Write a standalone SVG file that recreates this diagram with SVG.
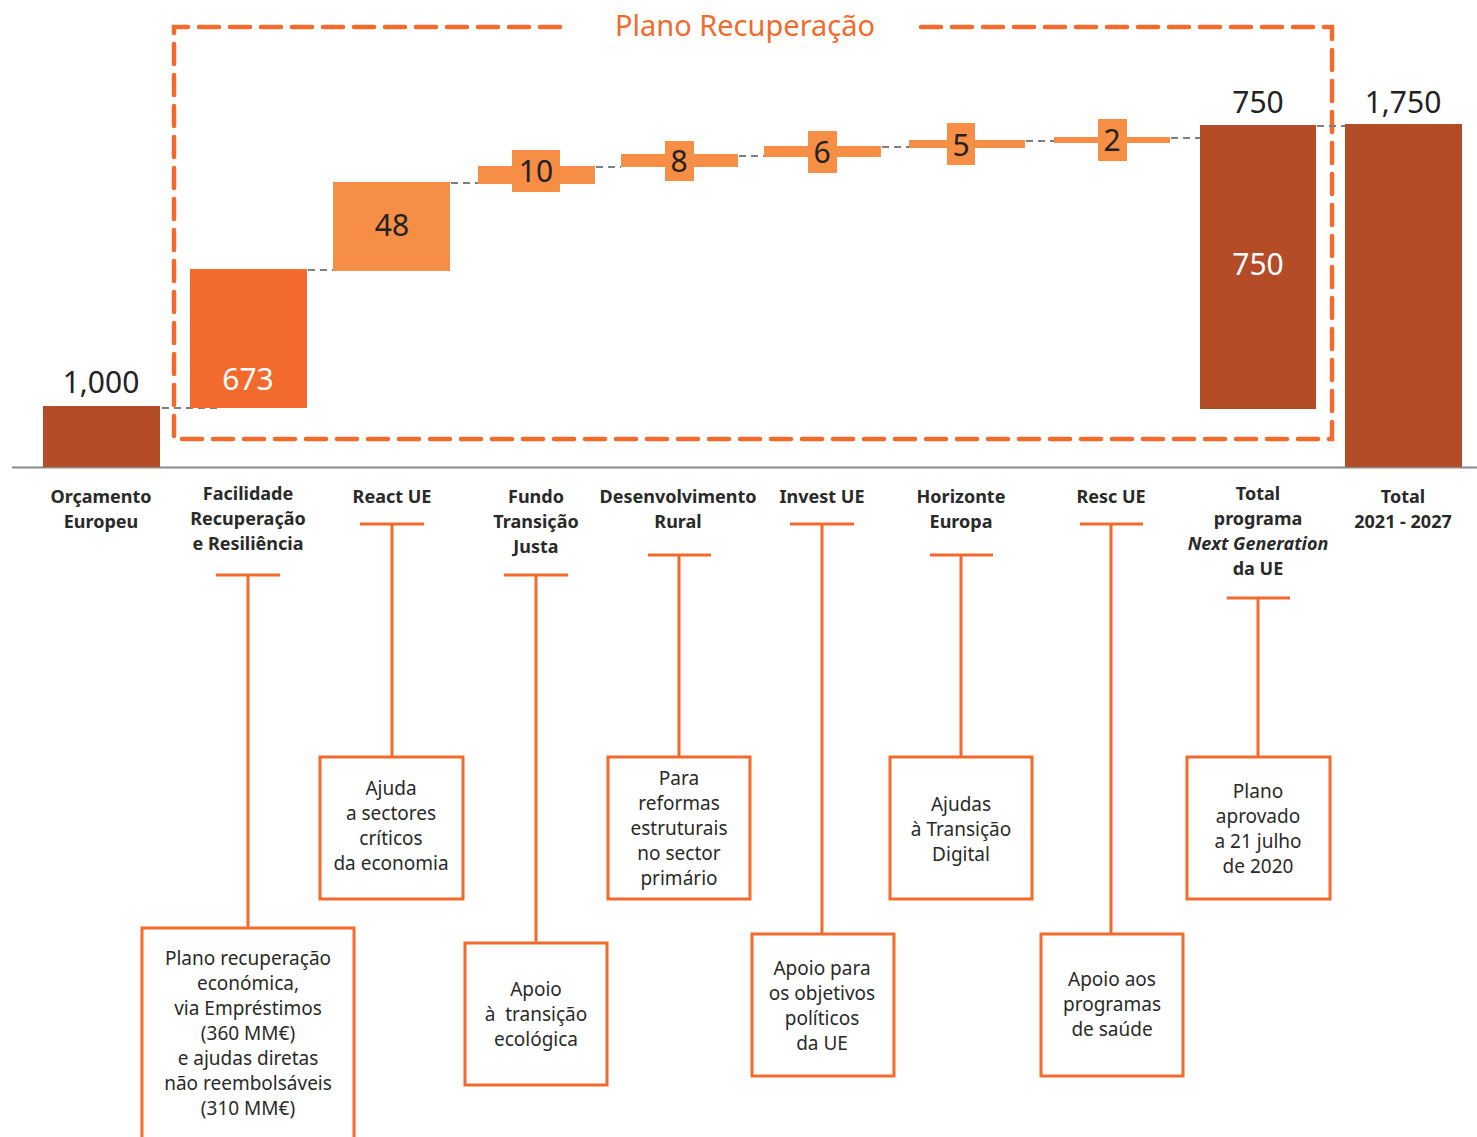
<svg xmlns="http://www.w3.org/2000/svg" width="1477" height="1137" viewBox="0 0 1477 1137">
<style>
.bg{fill:#ffffff}
.dk{fill:#B34C27}
.or{fill:#F26B2C}
.lt{fill:#F68E45}
.num{font-family:"Noto Sans","Open Sans",sans-serif;font-size:30px;fill:#222;text-anchor:middle}
.numw{font-family:"Noto Sans","Open Sans",sans-serif;font-size:30px;fill:#ffffff;text-anchor:middle}
.cat{font-family:"Noto Sans","Open Sans",sans-serif;font-size:18px;font-weight:bold;fill:#2a2a2a;text-anchor:middle}
.box{fill:#ffffff;stroke:#F26B2C;stroke-width:3}
.txt{font-family:"Noto Sans","Open Sans",sans-serif;font-size:19px;fill:#2a2a2a;text-anchor:middle}
.conn{stroke:#F26B2C;stroke-width:3;fill:none}
.gd{stroke:#7f7f7f;stroke-width:2;stroke-dasharray:7,5;fill:none}
.frame{stroke:#F26B2C;stroke-width:4.5;stroke-dasharray:20,11;stroke-linecap:round;fill:none}
</style>
<rect class="bg" x="0" y="0" width="1477" height="1137"/>

<g id="frame">
<path class="frame" d="M560,27 H174 V439 H1332 V27 H915"/>
<text x="745" y="36" font-family="Noto Sans, Open Sans, sans-serif" font-size="29" fill="#F26B2C" text-anchor="middle">Plano Recuperação</text>
</g>

<g id="connectors">
<line class="gd" x1="162" y1="408" x2="222" y2="408"/>
<line class="gd" x1="308" y1="270" x2="333" y2="270"/>
<line class="gd" x1="451" y1="183" x2="478" y2="183"/>
<line class="gd" x1="596" y1="167" x2="621" y2="167"/>
<line class="gd" x1="739" y1="156" x2="764" y2="156"/>
<line class="gd" x1="882" y1="147" x2="909" y2="147"/>
<line class="gd" x1="1026" y1="141" x2="1054" y2="141"/>
<line class="gd" x1="1171" y1="138" x2="1200" y2="138"/>
<line class="gd" x1="1317" y1="126" x2="1390" y2="126"/>
<path class="conn" d="M216,575 H280 M248,575 V928"/>
<path class="conn" d="M360,524 H424 M392,524 V757"/>
<path class="conn" d="M504,575 H568 M536,575 V943"/>
<path class="conn" d="M648,555 H711 M679,555 V757"/>
<path class="conn" d="M790,524 H854 M822,524 V934"/>
<path class="conn" d="M930,555 H993 M961,555 V757"/>
<path class="conn" d="M1080,524 H1143 M1111,524 V934"/>
<path class="conn" d="M1227,598 H1290 M1258,598 V757"/>
</g>

<g id="axis">
<line x1="12" y1="467.5" x2="1477" y2="467.5" stroke="#8a8a8a" stroke-width="2"/>
</g>

<g id="bar-orcamento">
<rect class="dk" x="43" y="406" width="117" height="61"/>
<text class="num" x="101" y="393">1,000</text>
<text class="cat" x="101" y="503">Orçamento</text>
<text class="cat" x="101" y="528">Europeu</text>
</g>

<g id="bar-facilidade">
<rect class="or" x="190" y="269" width="117" height="139"/>
<text class="numw" x="248" y="390">673</text>
<text class="cat" x="248" y="500">Facilidade</text>
<text class="cat" x="248" y="525">Recuperação</text>
<text class="cat" x="248" y="550">e Resiliência</text>
</g>

<g id="bar-react">
<rect class="lt" x="333" y="182" width="117" height="89"/>
<text class="num" x="392" y="236">48</text>
<text class="cat" x="392" y="503">React UE</text>
</g>

<g id="bar-fundo">
<rect class="lt" x="478" y="166" width="117" height="18"/>
<rect class="lt" x="512" y="150" width="48" height="42"/>
<text class="num" x="536" y="182">10</text>
<text class="cat" x="536" y="503">Fundo</text>
<text class="cat" x="536" y="528">Transição</text>
<text class="cat" x="536" y="553">Justa</text>
</g>

<g id="bar-desenvolvimento">
<rect class="lt" x="621" y="154" width="117" height="13"/>
<rect class="lt" x="665" y="141" width="29" height="40"/>
<text class="num" x="679" y="172">8</text>
<text class="cat" x="678" y="503">Desenvolvimento</text>
<text class="cat" x="678" y="528">Rural</text>
</g>

<g id="bar-invest">
<rect class="lt" x="764" y="146" width="117" height="11"/>
<rect class="lt" x="808" y="131" width="29" height="42"/>
<text class="num" x="822" y="163">6</text>
<text class="cat" x="822" y="503">Invest UE</text>
</g>

<g id="bar-horizonte">
<rect class="lt" x="909" y="140" width="116" height="8"/>
<rect class="lt" x="947" y="123" width="28" height="42"/>
<text class="num" x="961" y="156">5</text>
<text class="cat" x="961" y="503">Horizonte</text>
<text class="cat" x="961" y="528">Europa</text>
</g>

<g id="bar-resc">
<rect class="lt" x="1054" y="137" width="116" height="6"/>
<rect class="lt" x="1098" y="119" width="29" height="42"/>
<text class="num" x="1112" y="151">2</text>
<text class="cat" x="1111" y="503">Resc UE</text>
</g>

<g id="bar-total-ng">
<rect class="dk" x="1200" y="125" width="116" height="284"/>
<text class="num" x="1258" y="113">750</text>
<text class="numw" x="1258" y="275">750</text>
<text class="cat" x="1258" y="500">Total</text>
<text class="cat" x="1258" y="525">programa</text>
<text class="cat" x="1258" y="550" font-style="italic">Next Generation</text>
<text class="cat" x="1258" y="575">da UE</text>
</g>

<g id="bar-total">
<rect class="dk" x="1345" y="124" width="117" height="343"/>
<text class="num" x="1403" y="113">1,750</text>
<text class="cat" x="1403" y="503">Total</text>
<text class="cat" x="1403" y="528">2021 - 2027</text>
</g>

<g id="box-facilidade">
<rect class="box" x="142" y="928" width="212" height="215"/>
<text class="txt" x="248" y="965">Plano recuperação</text>
<text class="txt" x="248" y="990">económica,</text>
<text class="txt" x="248" y="1015">via Empréstimos</text>
<text class="txt" x="248" y="1040">(360 MM€)</text>
<text class="txt" x="248" y="1065">e ajudas diretas</text>
<text class="txt" x="248" y="1090">não reembolsáveis</text>
<text class="txt" x="248" y="1115">(310 MM€)</text>
</g>

<g id="box-react">
<rect class="box" x="320" y="757" width="143" height="142"/>
<text class="txt" x="391" y="795">Ajuda</text>
<text class="txt" x="391" y="820">a sectores</text>
<text class="txt" x="391" y="845">críticos</text>
<text class="txt" x="391" y="870">da economia</text>
</g>

<g id="box-fundo">
<rect class="box" x="465" y="943" width="142" height="142"/>
<text class="txt" x="536" y="996">Apoio</text>
<text class="txt" x="536" y="1021" xml:space="preserve">à  transição</text>
<text class="txt" x="536" y="1046">ecológica</text>
</g>

<g id="box-desenvolvimento">
<rect class="box" x="608" y="757" width="142" height="142"/>
<text class="txt" x="679" y="785">Para</text>
<text class="txt" x="679" y="810">reformas</text>
<text class="txt" x="679" y="835">estruturais</text>
<text class="txt" x="679" y="860">no sector</text>
<text class="txt" x="679" y="885">primário</text>
</g>

<g id="box-invest">
<rect class="box" x="752" y="934" width="142" height="142"/>
<text class="txt" x="822" y="975">Apoio para</text>
<text class="txt" x="822" y="1000">os objetivos</text>
<text class="txt" x="822" y="1025">políticos</text>
<text class="txt" x="822" y="1050">da UE</text>
</g>

<g id="box-horizonte">
<rect class="box" x="890" y="757" width="142" height="142"/>
<text class="txt" x="961" y="811">Ajudas</text>
<text class="txt" x="961" y="836">à Transição</text>
<text class="txt" x="961" y="861">Digital</text>
</g>

<g id="box-resc">
<rect class="box" x="1041" y="934" width="142" height="142"/>
<text class="txt" x="1112" y="986">Apoio aos</text>
<text class="txt" x="1112" y="1011">programas</text>
<text class="txt" x="1112" y="1036">de saúde</text>
</g>

<g id="box-total">
<rect class="box" x="1187" y="757" width="143" height="142"/>
<text class="txt" x="1258" y="798">Plano</text>
<text class="txt" x="1258" y="823">aprovado</text>
<text class="txt" x="1258" y="848">a 21 julho</text>
<text class="txt" x="1258" y="873">de 2020</text>
</g>
</svg>
